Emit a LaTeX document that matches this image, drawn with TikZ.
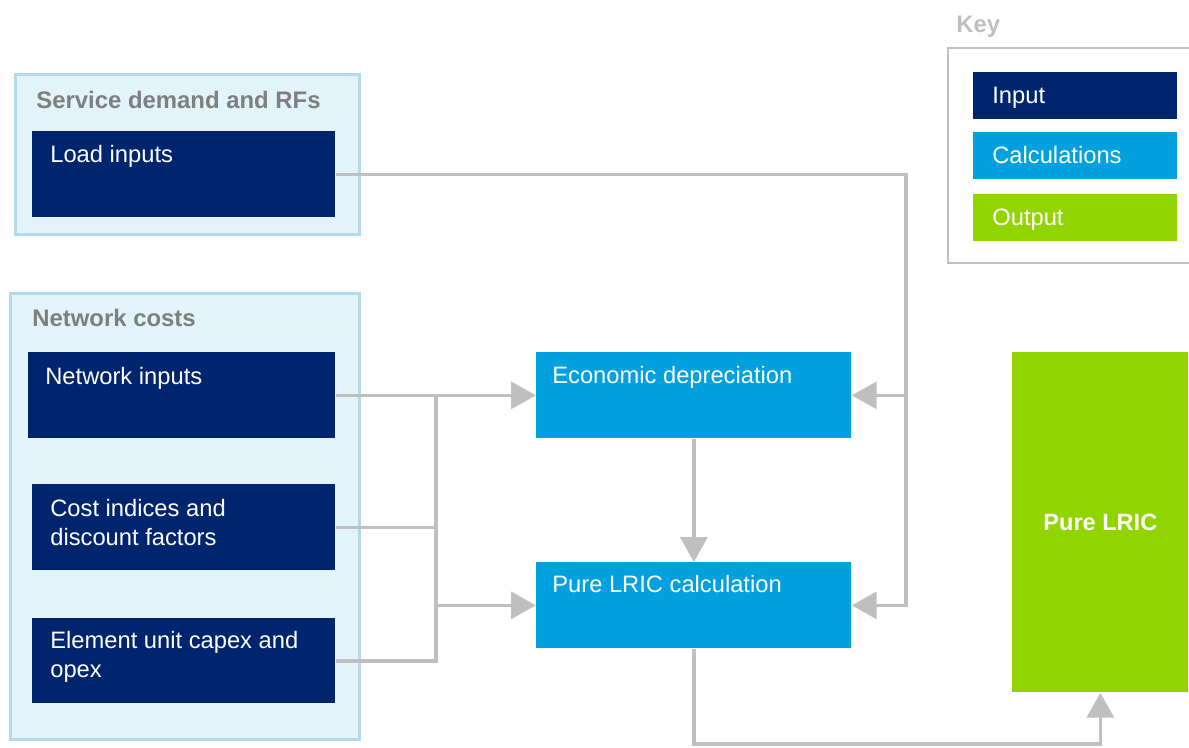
\documentclass[tikz,border=0pt]{standalone}
\usepackage{fontspec}
\setmainfont{Liberation Sans}
\usepackage{tikz}
\usetikzlibrary{
  arrows.meta,
  positioning,
  calc
}
\definecolor{navy}{HTML}{00256F}
\definecolor{sky}{HTML}{00A1DE}
\definecolor{lime}{HTML}{92D400}
\definecolor{paleblue}{HTML}{E2F3FA}
\definecolor{edgeblue}{HTML}{B4DAEA}
\definecolor{linkgray}{HTML}{BFBFBF}
\definecolor{headgray}{HTML}{7F7F7F}

\begin{document}
\begin{tikzpicture}[
  box/.style={fill=#1, minimum width=6.06cm, minimum height=1.72cm, anchor=north west, inner sep=0pt},
  group/.style={draw=edgeblue, line width=1.5pt, fill=paleblue, anchor=north west, inner sep=0pt},
  keybox/.style={fill=#1, minimum width=4.08cm, minimum height=0.94cm, anchor=north west, inner sep=0pt},
  boxtext/.style={text=white, anchor=base west, align=left, inner sep=0pt, font=\fontsize{13.5}{16.4}\selectfont},
  heading/.style={text=#1, anchor=base west, inner sep=0pt, font=\fontsize{13.6}{16}\selectfont\bfseries},
  link/.style={draw=linkgray, line width=1.9pt},
  arrow/.style={link, -{Triangle[length=0.5cm, width=0.54cm]}}
]
  \clip (0,0) rectangle (23.78,-14.94);

  % Input groups
  \node[group, minimum width=6.88cm, minimum height=3.2cm] (svc) at (0.28,-1.46) {};
  \node[heading=headgray] (svchead) at ([shift={(0.44,-0.70)}]svc.north west) {Service demand and RFs};
  \node[box=navy] (load) at (0.64,-2.62) {};
  \node[boxtext] (loadtxt) at ([shift={(0.36,-0.62)}]load.north west) {Load inputs};

  \node[group, minimum width=6.98cm, minimum height=8.92cm] (net) at (0.18,-5.84) {};
  \node[heading=headgray] (nethead) at ([shift={(0.46,-0.68)}]net.north west) {Network costs};
  \node[box=navy, minimum width=6.14cm] (netin) at (0.56,-7.04) {};
  \node[boxtext] (netintxt) at ([shift={(0.34,-0.64)}]netin.north west) {Network inputs};
  \node[box=navy] (cost) at (0.64,-9.68) {};
  % two-line texts sit on their last line
  \node[boxtext] (costtxt) at ([shift={(0.36,-1.22)}]cost.north west) {Cost indices and\\discount factors};
  \node[box=navy, minimum height=1.70cm] (elem) at (0.64,-12.36) {};
  \node[boxtext] (elemtxt) at ([shift={(0.36,-1.18)}]elem.north west) {Element unit capex and\\opex};

  % Calculations and output
  \node[box=sky, minimum width=6.30cm] (econ) at (10.72,-7.04) {};
  \node[boxtext] (econtxt) at ([shift={(0.32,-0.62)}]econ.north west) {Economic depreciation};
  \node[box=sky, minimum width=6.30cm] (calc) at (10.72,-11.24) {};
  \node[boxtext] (calctxt) at ([shift={(0.32,-0.60)}]calc.north west) {Pure LRIC calculation};
  \node[box=lime, minimum width=3.52cm, minimum height=6.8cm, text=white,
        font=\fontsize{13.4}{16}\selectfont\bfseries] (out) at (20.24,-7.04) {Pure LRIC};

  % Key
  \node[heading=linkgray] (keyhead) at (19.12,-0.64) {Key};
  \node[draw=linkgray, line width=1.1pt, minimum width=5.4cm, minimum height=4.3cm,
        anchor=north west, inner sep=0pt] (keyframe) at (18.94,-0.94) {};
  \foreach \n/\c/\t/\y in {keyin/navy/Input/-1.44, keycalc/sky/Calculations/-2.64, keyout/lime/Output/-3.88} {
    \node[keybox=\c] (\n) at (19.46,\y) {};
    \node[boxtext] at ([shift={(0.38,-0.62)}]\n.north west) {\t};
  }

  % Connectors
  \coordinate (lbus) at (8.72,0);
  \coordinate (rbus) at (18.12,0);
  \coordinate (bot) at (0,-14.88);
  \draw[arrow] (netin.east) -- (econ.west);
  \draw[link] (elem.east) -| (lbus |- netin.east);
  \draw[link] (cost.east) -- (lbus |- cost.east);
  \draw[arrow] (lbus |- calc.west) -- (calc.west);
  \draw[arrow] (load.east) -| (rbus |- calc.east) -- (calc.east);
  \draw[arrow] (rbus |- econ.east) -- (econ.east);
  \draw[arrow] (econ.south) -- (calc.north);
  \draw[arrow] (calc.south) |- (out.south |- bot) -- (out.south);
\end{tikzpicture}
\end{document}
